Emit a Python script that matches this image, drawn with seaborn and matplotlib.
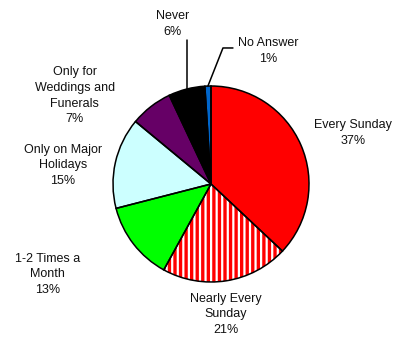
import numpy as np
import matplotlib
matplotlib.use("Agg")
import matplotlib.pyplot as plt
import seaborn as sns

labels = ["Every Sunday", "Nearly Every\nSunday", "1-2 Times a\nMonth",
          "Only on Major\nHolidays", "Only for\nWeddings and\nFunerals", "Never", "No Answer"]
values = [37, 21, 13, 15, 7, 6, 1]
colors = ["#FF0000", "#FFFFFF", "#00FF00", "#CCFFFF", "#660066", "#000000", "#0066CC"]

sns.set_theme(style="white")
plt.rcParams["font.family"] = ["Liberation Sans", "DejaVu Sans"]
plt.rcParams["hatch.linewidth"] = 2.4

fig = plt.figure(figsize=(3.98, 3.37), dpi=100)
ax = fig.add_axes([0, 0, 1, 1])

# base pie (fills)
wedges, _ = ax.pie(values, colors=colors, startangle=90, counterclock=False,
                   radius=1.0, wedgeprops=dict(linewidth=0, edgecolor="none"))
# striped wedge
wedges[1].set_hatch("|||")
wedges[1].set_edgecolor("#FF0000")
wedges[1].set_linewidth(0)
# outlines
ax.pie(values, colors=["none"] * len(values), startangle=90, counterclock=False,
       radius=1.0, wedgeprops=dict(linewidth=1.1, edgecolor="black", fill=False))

u = 98.0
ax.set_xlim(-211 / u, (398 - 211) / u)
ax.set_ylim(-(337 - 184) / u, 184 / u)
ax.set_aspect("auto")
ax.axis("off")

pct = [f"{v}%" for v in values]
pos = [(1.45, 0.52), (0.15, -1.33), (-1.67, -0.92), (-1.51, 0.19),
       (-1.39, 0.90), (-0.39, 1.63), (0.58, 1.36)]
fs = 9
for lab, p, (x, y) in zip(labels, pct, pos):
    ax.text(x, y, f"{lab}\n{p}", ha="center", va="center", fontsize=fs,
            color="#111111", linespacing=1.4)

# leader lines
cum = np.cumsum(values) - np.array(values) / 2
ang = np.deg2rad(cum / sum(values) * 360)
xn, yn = np.sin(ang[5]), np.cos(ang[5])
ax.plot([xn, xn], [yn, 1.47], color="black", lw=1.1)
xa, ya = np.sin(ang[6]), np.cos(ang[6])
ax.plot([xa, 0.122, 0.224], [ya, 1.388, 1.388], color="black", lw=1.1)

fig.savefig("out.png", dpi=100)
